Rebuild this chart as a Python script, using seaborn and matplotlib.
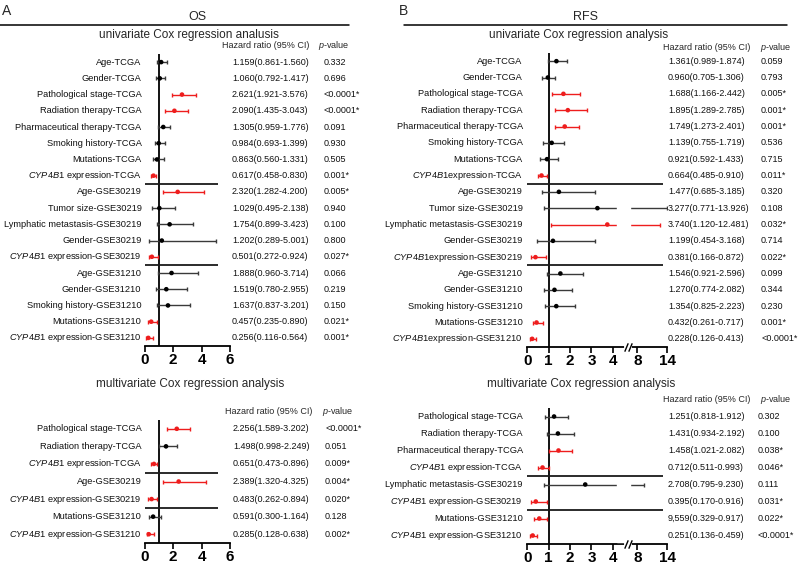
import numpy as np
import pandas as pd
import matplotlib
matplotlib.use('Agg')
import matplotlib.pyplot as plt
import matplotlib.transforms as mtransforms
from matplotlib.lines import Line2D
import seaborn as sns

sns.set_theme(style="ticks")
plt.rcParams['font.family'] = ['Liberation Sans', 'DejaVu Sans']
plt.rcParams['mathtext.fontset'] = 'custom'
plt.rcParams['mathtext.rm'] = 'Liberation Sans'
plt.rcParams['mathtext.it'] = 'Liberation Sans:italic'
plt.rcParams['axes.edgecolor'] = 'black'

CYP = r'$\mathit{CYP4B1}$'
RED = '#ee1d1d'
GREY = '#3a3a3a'

# ---------------- OS, univariate ----------------
os_uni_labels = ['Age-TCGA', 'Gender-TCGA', 'Pathological stage-TCGA', 'Radiation therapy-TCGA',
                 'Pharmaceutical therapy-TCGA', 'Smoking history-TCGA', 'Mutations-TCGA',
                 CYP + ' expression-TCGA', 'Age-GSE30219', 'Tumor size-GSE30219',
                 'Lymphatic metastasis-GSE30219', 'Gender-GSE30219', CYP + ' expression-GSE30219',
                 'Age-GSE31210', 'Gender-GSE31210', 'Smoking history-GSE31210', 'Mutations-GSE31210',
                 CYP + ' expression-GSE31210']
os_uni_hr = [1.159, 1.060, 2.621, 2.090, 1.305, 0.984, 0.863, 0.617, 2.320, 1.029, 1.754, 1.202,
             0.501, 1.888, 1.519, 1.637, 0.457, 0.256]
os_uni_lo = [0.861, 0.792, 1.921, 1.435, 0.959, 0.693, 0.560, 0.458, 1.282, 0.495, 0.899, 0.289,
             0.272, 0.960, 0.780, 0.837, 0.235, 0.116]
os_uni_hi = [1.560, 1.417, 3.576, 3.043, 1.776, 1.399, 1.331, 0.830, 4.200, 2.138, 3.423, 5.001,
             0.924, 3.714, 2.955, 3.201, 0.890, 0.564]
os_uni_p = ['0.332', '0.696', '<0.0001*', '<0.0001*', '0.091', '0.930', '0.505', '0.001*', '0.005*',
            '0.940', '0.100', '0.800', '0.027*', '0.066', '0.219', '0.150', '0.021*', '0.001*']

# ---------------- OS, multivariate ----------------
os_multi_labels = ['Pathological stage-TCGA', 'Radiation therapy-TCGA', CYP + ' expression-TCGA',
                   'Age-GSE30219', CYP + ' expression-GSE30219', 'Mutations-GSE31210',
                   CYP + ' expression-GSE31210']
os_multi_hr = [2.256, 1.498, 0.651, 2.389, 0.483, 0.591, 0.285]
os_multi_lo = [1.589, 0.998, 0.473, 1.320, 0.262, 0.300, 0.128]
os_multi_hi = [3.202, 2.249, 0.896, 4.325, 0.894, 1.164, 0.638]
os_multi_p = ['<0.0001*', '0.051', '0.009*', '0.004*', '0.020*', '0.128', '0.002*']

# ---------------- RFS, univariate ----------------
rfs_uni_labels = ['Age-TCGA', 'Gender-TCGA', 'Pathological stage-TCGA', 'Radiation therapy-TCGA',
                  'Pharmaceutical therapy-TCGA', 'Smoking history-TCGA', 'Mutations-TCGA',
                  CYP + 'expression-TCGA', 'Age-GSE30219', 'Tumor size-GSE30219',
                  'Lymphatic metastasis-GSE30219', 'Gender-GSE30219', CYP + 'expression-GSE30219',
                  'Age-GSE31210', 'Gender-GSE31210', 'Smoking history-GSE31210', 'Mutations-GSE31210',
                  CYP + 'expression-GSE31210']
rfs_uni_hr = [1.361, 0.960, 1.688, 1.895, 1.749, 1.139, 0.921, 0.664, 1.477, 3.277, 3.740, 1.199,
              0.381, 1.546, 1.270, 1.354, 0.432, 0.228]
rfs_uni_lo = [0.989, 0.705, 1.166, 1.289, 1.273, 0.755, 0.592, 0.485, 0.685, 0.771, 1.120, 0.454,
              0.166, 0.921, 0.774, 0.825, 0.261, 0.126]
rfs_uni_hi = [1.874, 1.306, 2.442, 2.785, 2.401, 1.719, 1.433, 0.910, 3.185, 13.926, 12.481, 3.168,
              0.872, 2.596, 2.082, 2.223, 0.717, 0.413]
rfs_uni_p = ['0.059', '0.793', '0.005*', '0.001*', '0.001*', '0.536', '0.715', '0.011*', '0.320',
             '0.108', '0.032*', '0.714', '0.022*', '0.099', '0.344', '0.230', '0.001*', '<0.0001*']

# ---------------- RFS, multivariate ----------------
rfs_multi_labels = ['Pathological stage-TCGA', 'Radiation therapy-TCGA', 'Pharmaceutical therapy-TCGA',
                    CYP + ' expression-TCGA', 'Lymphatic metastasis-GSE30219',
                    CYP + ' expression-GSE30219', 'Mutations-GSE31210', CYP + ' expression-GSE31210']
rfs_multi_hr = [1.251, 1.431, 1.458, 0.712, 2.708, 0.395, 0.559, 0.251]
rfs_multi_lo = [0.818, 0.934, 1.021, 0.511, 0.795, 0.170, 0.329, 0.136]
rfs_multi_hi = [1.912, 2.192, 2.082, 0.993, 9.230, 0.916, 0.917, 0.459]
rfs_multi_p = ['0.302', '0.100', '0.038*', '0.046*', '0.111', '0.031*', '0.022*', '<0.0001*']

os_ticks = [0, 2, 4, 6]
rfs_ticks = [0, 1, 2, 3, 4, 8, 14]

W, H = 800, 566
fig = plt.figure(figsize=(W / 100, H / 100), dpi=100)


def add_ax(x0, x1, y0, y1):
    return fig.add_axes([x0 / W, 1 - y1 / H, (x1 - x0) / W, (y1 - y0) / H])


def ftext(x, y, s, **kw):
    fig.text(x / W, 1 - y / H, s, **kw)


def fline(x0, x1, y):
    fig.add_artist(Line2D([x0 / W, x1 / W], [1 - y / H, 1 - y / H], color='black', lw=1.1))


def forest(ax, labels, hr, lo, hi, pvals, seps, sep_end, xmax, ticks, label_x, hr_x, p_x, hr_text=None):
    df = pd.DataFrame({'label': labels, 'hr': hr, 'lo': lo, 'hi': hi, 'p': pvals})
    df['row'] = np.arange(len(df))
    df['sig'] = df['p'].str.endswith('*')
    if hr_text is None:
        hr_text = [f"{h:.3f}({l:.3f}-{u:.3f})" for h, l, u in zip(hr, lo, hi)]

    ax.axvline(1, color='black', lw=1.3, zorder=2)
    for sig, color in [(False, GREY), (True, RED)]:
        sub = df[df['sig'] == sig]
        ax.errorbar(sub['hr'], sub['row'], xerr=[sub['hr'] - sub['lo'], sub['hi'] - sub['hr']],
                    fmt='none', ecolor=color, elinewidth=1.0, capsize=1.7, capthick=1.0, zorder=2.5)
    sns.scatterplot(data=df, x='hr', y='row', hue='sig', palette={False: 'black', True: RED},
                    s=11, marker='o', edgecolor='none', legend=False, ax=ax, zorder=5)
    for s in seps:
        ax.hlines(s + 0.5, 0, sep_end, color='#1a1a1a', lw=1.3, zorder=4)

    ax.set_xlim(0, xmax)
    ax.set_ylim(len(df) - 0.5, -0.5)
    ax.set_xticks(ticks)
    ax.set_xticklabels([str(t) for t in ticks], fontweight='bold', fontsize=11)
    ax.set_yticks([])
    ax.set_xlabel('')
    ax.set_ylabel('')
    ax.tick_params(axis='x', direction='out', length=4.2, width=1.2, pad=1.0, colors='black')
    for side in ['top', 'right', 'left']:
        ax.spines[side].set_visible(False)
    ax.spines['bottom'].set_linewidth(1.3)
    ax.patch.set_alpha(0)

    trans = mtransforms.blended_transform_factory(fig.transFigure, ax.transData)
    for i, row in df.iterrows():
        ax.text(label_x / W, row['row'], row['label'], transform=trans, ha='right', va='center',
                fontsize=6.7, color='#111111')
        ax.text(hr_x / W, row['row'], hr_text[i], transform=trans, ha='left', va='center',
                fontsize=6.5, color='#111111')
        ax.text(p_x / W, row['row'], row['p'], transform=trans, ha='left', va='center',
                fontsize=6.5, color='#111111')


# broken x axis for RFS (0-4 linear, compressed 8-14)
brk_data = np.array([-10, 0, 4.62, 6.52, 14, 30])
brk_disp = np.array([-10, 0, 4.62, 4.81, 6.53, 10.21])


def fwd(x):
    return np.interp(x, brk_data, brk_disp)


def inv(u):
    return np.interp(u, brk_disp, brk_data)


def add_break(ax):
    ax.axvspan(4.2, 6.52, ymin=0.012, color='white', zorder=3)
    tr = mtransforms.blended_transform_factory(ax.transData, ax.transAxes)
    ax.plot([4.62, 6.52], [0, 0], transform=tr, color='white', lw=3, clip_on=False, zorder=6)
    ax.plot([4.66, 6.48], [0, 0], transform=tr, ls='none', marker=[(-1, -2.4), (1, 2.4)],
            markersize=6, mew=1.0, color='black', clip_on=False, zorder=7)


# ---------------- headers ----------------
ftext(7, 11, 'A', fontsize=10, ha='center', va='center')
ftext(197, 17, 'OS', fontsize=9, ha='center', va='center')
fline(0, 349, 25)
ftext(189, 35, 'univariate Cox regression analusis', fontsize=8.5, ha='center', va='center')
ftext(222, 46, 'Hazard ratio (95% CI)', fontsize=6.5, ha='left', va='center')
ftext(318, 46, r'$\mathit{p}$-value', fontsize=6.5, ha='left', va='center')
ftext(190, 384, 'multivariate Cox regression analysis', fontsize=8.5, ha='center', va='center')
ftext(225, 412, 'Hazard ratio (95% CI)', fontsize=6.5, ha='left', va='center')
ftext(322, 412, r'$\mathit{p}$-value', fontsize=6.5, ha='left', va='center')

ftext(403, 11, 'B', fontsize=10, ha='center', va='center')
ftext(585, 17, 'RFS', fontsize=9, ha='center', va='center')
fline(404, 787, 25)
ftext(579, 35, 'univariate Cox regression analysis', fontsize=8.5, ha='center', va='center')
ftext(663, 47, 'Hazard ratio (95% CI)', fontsize=6.5, ha='left', va='center')
ftext(760, 47, r'$\mathit{p}$-value', fontsize=6.5, ha='left', va='center')
ftext(581, 384, 'multivariate Cox regression analysis', fontsize=8.5, ha='center', va='center')
ftext(663, 399, 'Hazard ratio (95% CI)', fontsize=6.5, ha='left', va='center')
ftext(760, 399, r'$\mathit{p}$-value', fontsize=6.5, ha='left', va='center')

# ---------------- panels ----------------
ax1 = add_ax(144.7, 230, 54, 346)
forest(ax1, os_uni_labels, os_uni_hr, os_uni_lo, os_uni_hi, os_uni_p, [7, 12], 5.15, 6,
       os_ticks, 141.5, 232, 324)

ax2 = add_ax(144.7, 230, 420, 543)
forest(ax2, os_multi_labels, os_multi_hr, os_multi_lo, os_multi_hi, os_multi_p, [2, 4], 5.15, 6,
       os_ticks, 141.5, 233, 325)

ax3 = add_ax(527.3, 667, 53, 347)
ax3.set_xscale('function', functions=(fwd, inv))
forest(ax3, rfs_uni_labels, rfs_uni_hr, rfs_uni_lo, rfs_uni_hi, rfs_uni_p, [7, 12], 13.2, 14,
       rfs_ticks, 522.7, 668, 761)
add_break(ax3)

# the source table prints the Mutations-GSE31210 HR as "9,559"
rfs_multi_text = [f"{h:.3f}({l:.3f}-{u:.3f})" for h, l, u in zip(rfs_multi_hr, rfs_multi_lo, rfs_multi_hi)]
rfs_multi_text[6] = '9,559' + rfs_multi_text[6][5:]
ax4 = add_ax(527.3, 667, 408, 544)
ax4.set_xscale('function', functions=(fwd, inv))
forest(ax4, rfs_multi_labels, rfs_multi_hr, rfs_multi_lo, rfs_multi_hi, rfs_multi_p, [3, 5], 13.2, 14,
       rfs_ticks, 522.7, 668, 758, hr_text=rfs_multi_text)
add_break(ax4)

fig.savefig('out.png', dpi=100)
